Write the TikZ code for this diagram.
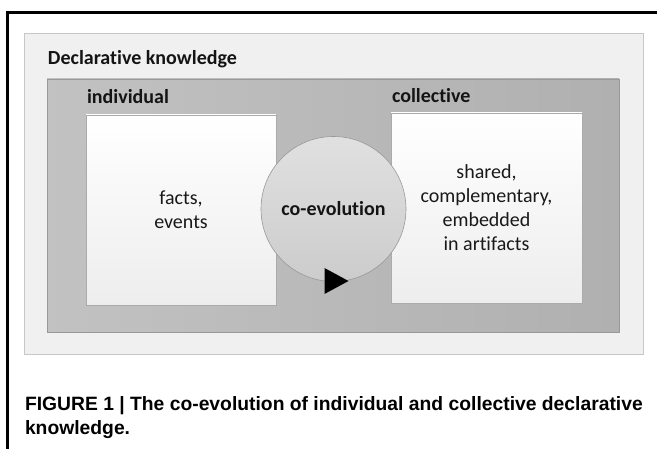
\documentclass[tikz,border=0pt]{standalone}
\usepackage{fontspec}
\setmainfont{Carlito}[Ligatures=NoCommon]
\newfontfamily\capfont{Liberation Sans}
\begin{document}
\begin{tikzpicture}[x=1pt,y=-1pt,
  every node/.style={inner sep=0pt,outer sep=0pt},
  lightbox/.style={draw=black!22,fill=black!6,line width=0.8pt,anchor=north west},
  darkbox/.style={draw=black!40,line width=0.8pt,anchor=north west,left color=black!24,right color=black!31},
  whitebox/.style={draw=black!33,line width=0.8pt,anchor=north west,top color=white,bottom color=black!7},
  cycle/.style={circle,draw=black!40,line width=0.6pt,top color=black!12,bottom color=black!20,minimum size=145pt},
  heading/.style={font=\fontsize{20}{24}\selectfont\bfseries,text=black!92,anchor=base west},
  body/.style={font=\fontsize{20}{24}\selectfont,text=black!90,align=center},
  caption/.style={font=\capfont\fontsize{19.3}{24.5}\selectfont\bfseries,anchor=base west,align=left}
]
\useasboundingbox (0,0) rectangle (657,449);
% frame
\coordinate (ftl) at (7.5,12.5);
\coordinate (ftr) at (657,12.5);
\coordinate (fbl) at (7.5,449);
\draw[line width=2.5pt] (fbl) -- (ftl) -- (ftr);
% boxes
\node[lightbox,minimum width=619pt,minimum height=321pt] (outer) at (24,33) {};
\node[darkbox,minimum width=572pt,minimum height=253pt] (inner) at (47,79) {};
\node[whitebox,minimum width=190pt,minimum height=190pt] (indiv) at (86,115) {};
\node[whitebox,minimum width=191pt,minimum height=190pt] (coll) at (391,113) {};
\node[cycle] (co) at (333.5,209) {};
\fill (co.center) ++(-9,59) -- ++(0,26) -- ++(24,-13) -- cycle;
% texts
\node[heading] (th) at (48,65) {Declarative knowledge};
\node[heading] (ti) at (87,104) {individual};
\node[heading] (tc) at (392,103) {collective};
\node[heading,anchor=center] (tco) at (co.center) {co-evolution};
\node[body] (tf) at (indiv.center) {facts,\\events};
\node[body] (ts) at (coll.center) {shared,\\complementary,\\embedded\\in artifacts};
\node[caption] (cap) at (25,435) {FIGURE 1 | The co-evolution of individual and collective declarative\\knowledge.};
\end{tikzpicture}
\end{document}
